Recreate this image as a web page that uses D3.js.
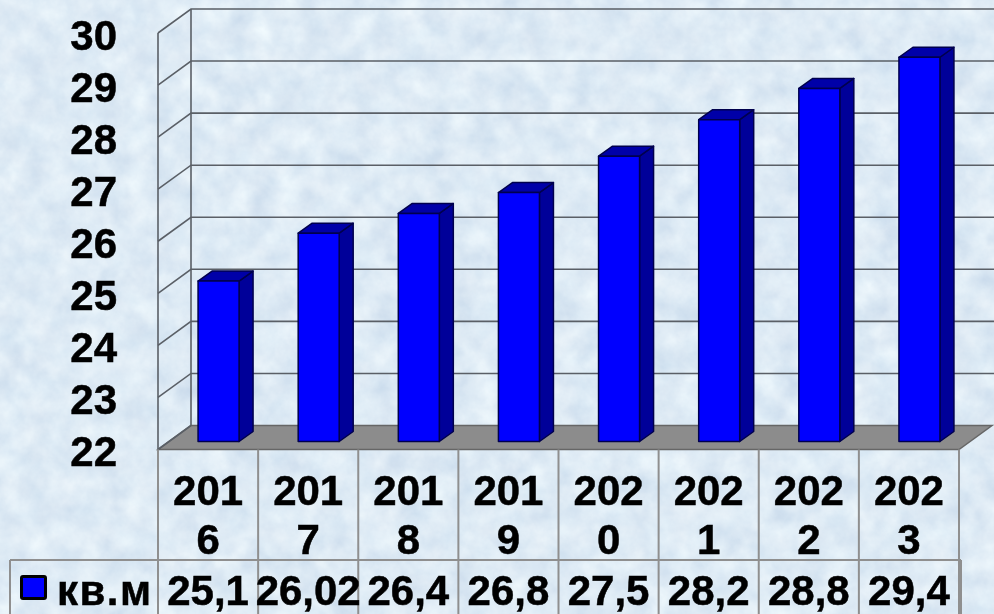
<!DOCTYPE html>
<html lang="en">
<head>
<meta charset="utf-8">
<title>кв.м</title>
<script src="https://d3js.org/d3.v7.min.js"></script>
<style>
html, body { margin: 0; padding: 0; background: #dce9f6; overflow: hidden; }
svg { display: block; filter: blur(0.45px); }
text { font-family: "Liberation Sans", Arial, sans-serif; font-weight: bold; font-size: 42px; fill: #000; stroke: #000; stroke-width: 0.5px; }
</style>
</head>
<body>
<script>
// values
const categories = ["2016", "2017", "2018", "2019", "2020", "2021", "2022", "2023"];
const values = [25.1, 26.02, 26.4, 26.8, 27.5, 28.2, 28.8, 29.4];
const seriesName = "кв.м";
const yTicks = [22, 23, 24, 25, 26, 27, 28, 29, 30];

const w = 994, h = 614;
const plotLeft = 158, plotRight = 959, plotTop = 33, plotBottom = 449.5;
const tableTop = 560, tableLeft = 10;

// 3d offset of the back wall from the front plane
const depthX = 33, depthY = -24;

const x = d3.scaleBand().domain(categories).range([plotLeft, plotRight]);
const y = d3.scaleLinear().domain([22, 30]).range([plotBottom, plotTop]);

const svg = d3.select("body").append("svg").attr("width", w).attr("height", h);

// marbled background
const filter = svg.append("defs").append("filter").attr("id", "marble")
	.attr("x", 0).attr("y", 0).attr("width", "100%").attr("height", "100%")
	.attr("color-interpolation-filters", "sRGB");
filter.append("feTurbulence").attr("type", "fractalNoise")
	.attr("baseFrequency", 0.04).attr("numOctaves", 5).attr("seed", 7);
filter.append("feColorMatrix").attr("type", "matrix")
	.attr("values", "0.15 0.06 0 0 0.765  0.11 0.06 0 0 0.835  0.06 0.04 0 0 0.91  0 0 0 0 1");
svg.append("rect").attr("width", w).attr("height", h).attr("filter", "url(#marble)");

// floor
svg.append("path")
	.attr("d", d3.line()([[plotLeft, plotBottom], [plotRight, plotBottom], [plotRight + depthX, plotBottom + depthY], [plotLeft + depthX, plotBottom + depthY]]) + "Z")
	.attr("fill", "#8c8c8c").attr("stroke", "#666").attr("stroke-width", 1.5);

// gridlines: side wall and back wall
const grid = svg.append("g").attr("fill", "none").attr("stroke", "#5a5f66").attr("stroke-width", 1.6);
grid.selectAll("path").data(yTicks.slice(1)).enter().append("path")
	.attr("d", d => d3.line()([[plotLeft, y(d)], [plotLeft + depthX, y(d) + depthY], [w, y(d) + depthY]]));
grid.append("path").attr("d", d3.line()([[plotLeft, plotTop], [plotLeft, plotBottom]]));
grid.append("path").attr("d", d3.line()([[plotLeft + depthX, plotTop + depthY], [plotLeft + depthX, plotBottom + depthY]]));
grid.append("path").attr("d", d3.line()([[plotLeft, plotBottom], [plotLeft + depthX, plotBottom + depthY]]));

// bars
const barW = 41, barShiftX = 10.5, barShiftY = -7, sideX = 14, sideY = -10;
const bars = svg.selectAll("g.bar").data(values).enter().append("g").attr("class", "bar")
	.attr("stroke", "#00004d").attr("stroke-width", 1.5).attr("stroke-linejoin", "round");
const barX = (d, i) => x(categories[i]) + x.bandwidth() / 2 - barW / 2 + barShiftX;
const barY = d => y(d) + barShiftY;
const y0 = y(22) - 8;

bars.append("path").attr("fill", "#000099").attr("d", (d, i) => {
	const a = barX(d, i) + barW;
	return d3.line()([[a, barY(d)], [a + sideX, barY(d) + sideY], [a + sideX, y0 + sideY], [a, y0]]) + "Z";
});
bars.append("path").attr("fill", "#0000a8").attr("d", (d, i) => {
	const a = barX(d, i), t = barY(d);
	return d3.line()([[a, t], [a + sideX, t + sideY], [a + barW + sideX, t + sideY], [a + barW, t]]) + "Z";
});
bars.append("rect").attr("fill", "#0000ff")
	.attr("x", barX).attr("y", barY).attr("width", barW).attr("height", d => y0 - barY(d));

// value axis
const yAxis = svg.append("g").attr("transform", "translate(126,3)")
	.call(d3.axisLeft(y).tickValues(yTicks).tickSize(0).tickPadding(9).tickFormat(d3.format("d")));
yAxis.select(".domain").remove();
yAxis.selectAll("text").style("font-size", "42px").style("font-family", "'Liberation Sans', Arial, sans-serif");

// data table lines
const table = svg.append("g").attr("stroke", "#8f8f8f").attr("stroke-width", 2).attr("fill", "none");
categories.concat(["end"]).forEach((c, i) => {
	const px = plotLeft + i * x.bandwidth();
	table.append("path").attr("d", d3.line()([[px, plotBottom], [px, h]]));
});
table.append("path").attr("d", d3.line()([[tableLeft, tableTop], [plotRight + 2, tableTop]]));
table.append("path").attr("d", d3.line()([[tableLeft, tableTop], [tableLeft, h]]));
table.append("path").attr("d", d3.line()([[plotRight + 2, tableTop], [plotRight + 2, h]]));

// category labels, wrapped in two lines like the original
const cats = svg.selectAll("g.cat").data(categories).enter().append("g").attr("class", "cat")
	.attr("text-anchor", "middle")
	.attr("transform", d => "translate(" + (x(d) + x.bandwidth() / 2) + ",0)");
cats.append("text").attr("y", 505).text(d => d.slice(0, 3));
cats.append("text").attr("y", 554).text(d => d.slice(3));

// value row
svg.selectAll("text.val").data(values).enter().append("text").attr("class", "val")
	.attr("text-anchor", "middle")
	.attr("x", (d, i) => x(categories[i]) + x.bandwidth() / 2)
	.attr("y", 605)
	.text(d => String(d).replace(".", ","));

// legend key
svg.append("rect").attr("x", 21.5).attr("y", 576.5).attr("width", 24).attr("height", 22).attr("rx", 1.5)
	.attr("fill", "#0000ff").attr("stroke", "#000").attr("stroke-width", 3);
svg.append("text").attr("x", 57).attr("y", 605).attr("letter-spacing", 1.5).text(seriesName);
</script>
</body>
</html>
